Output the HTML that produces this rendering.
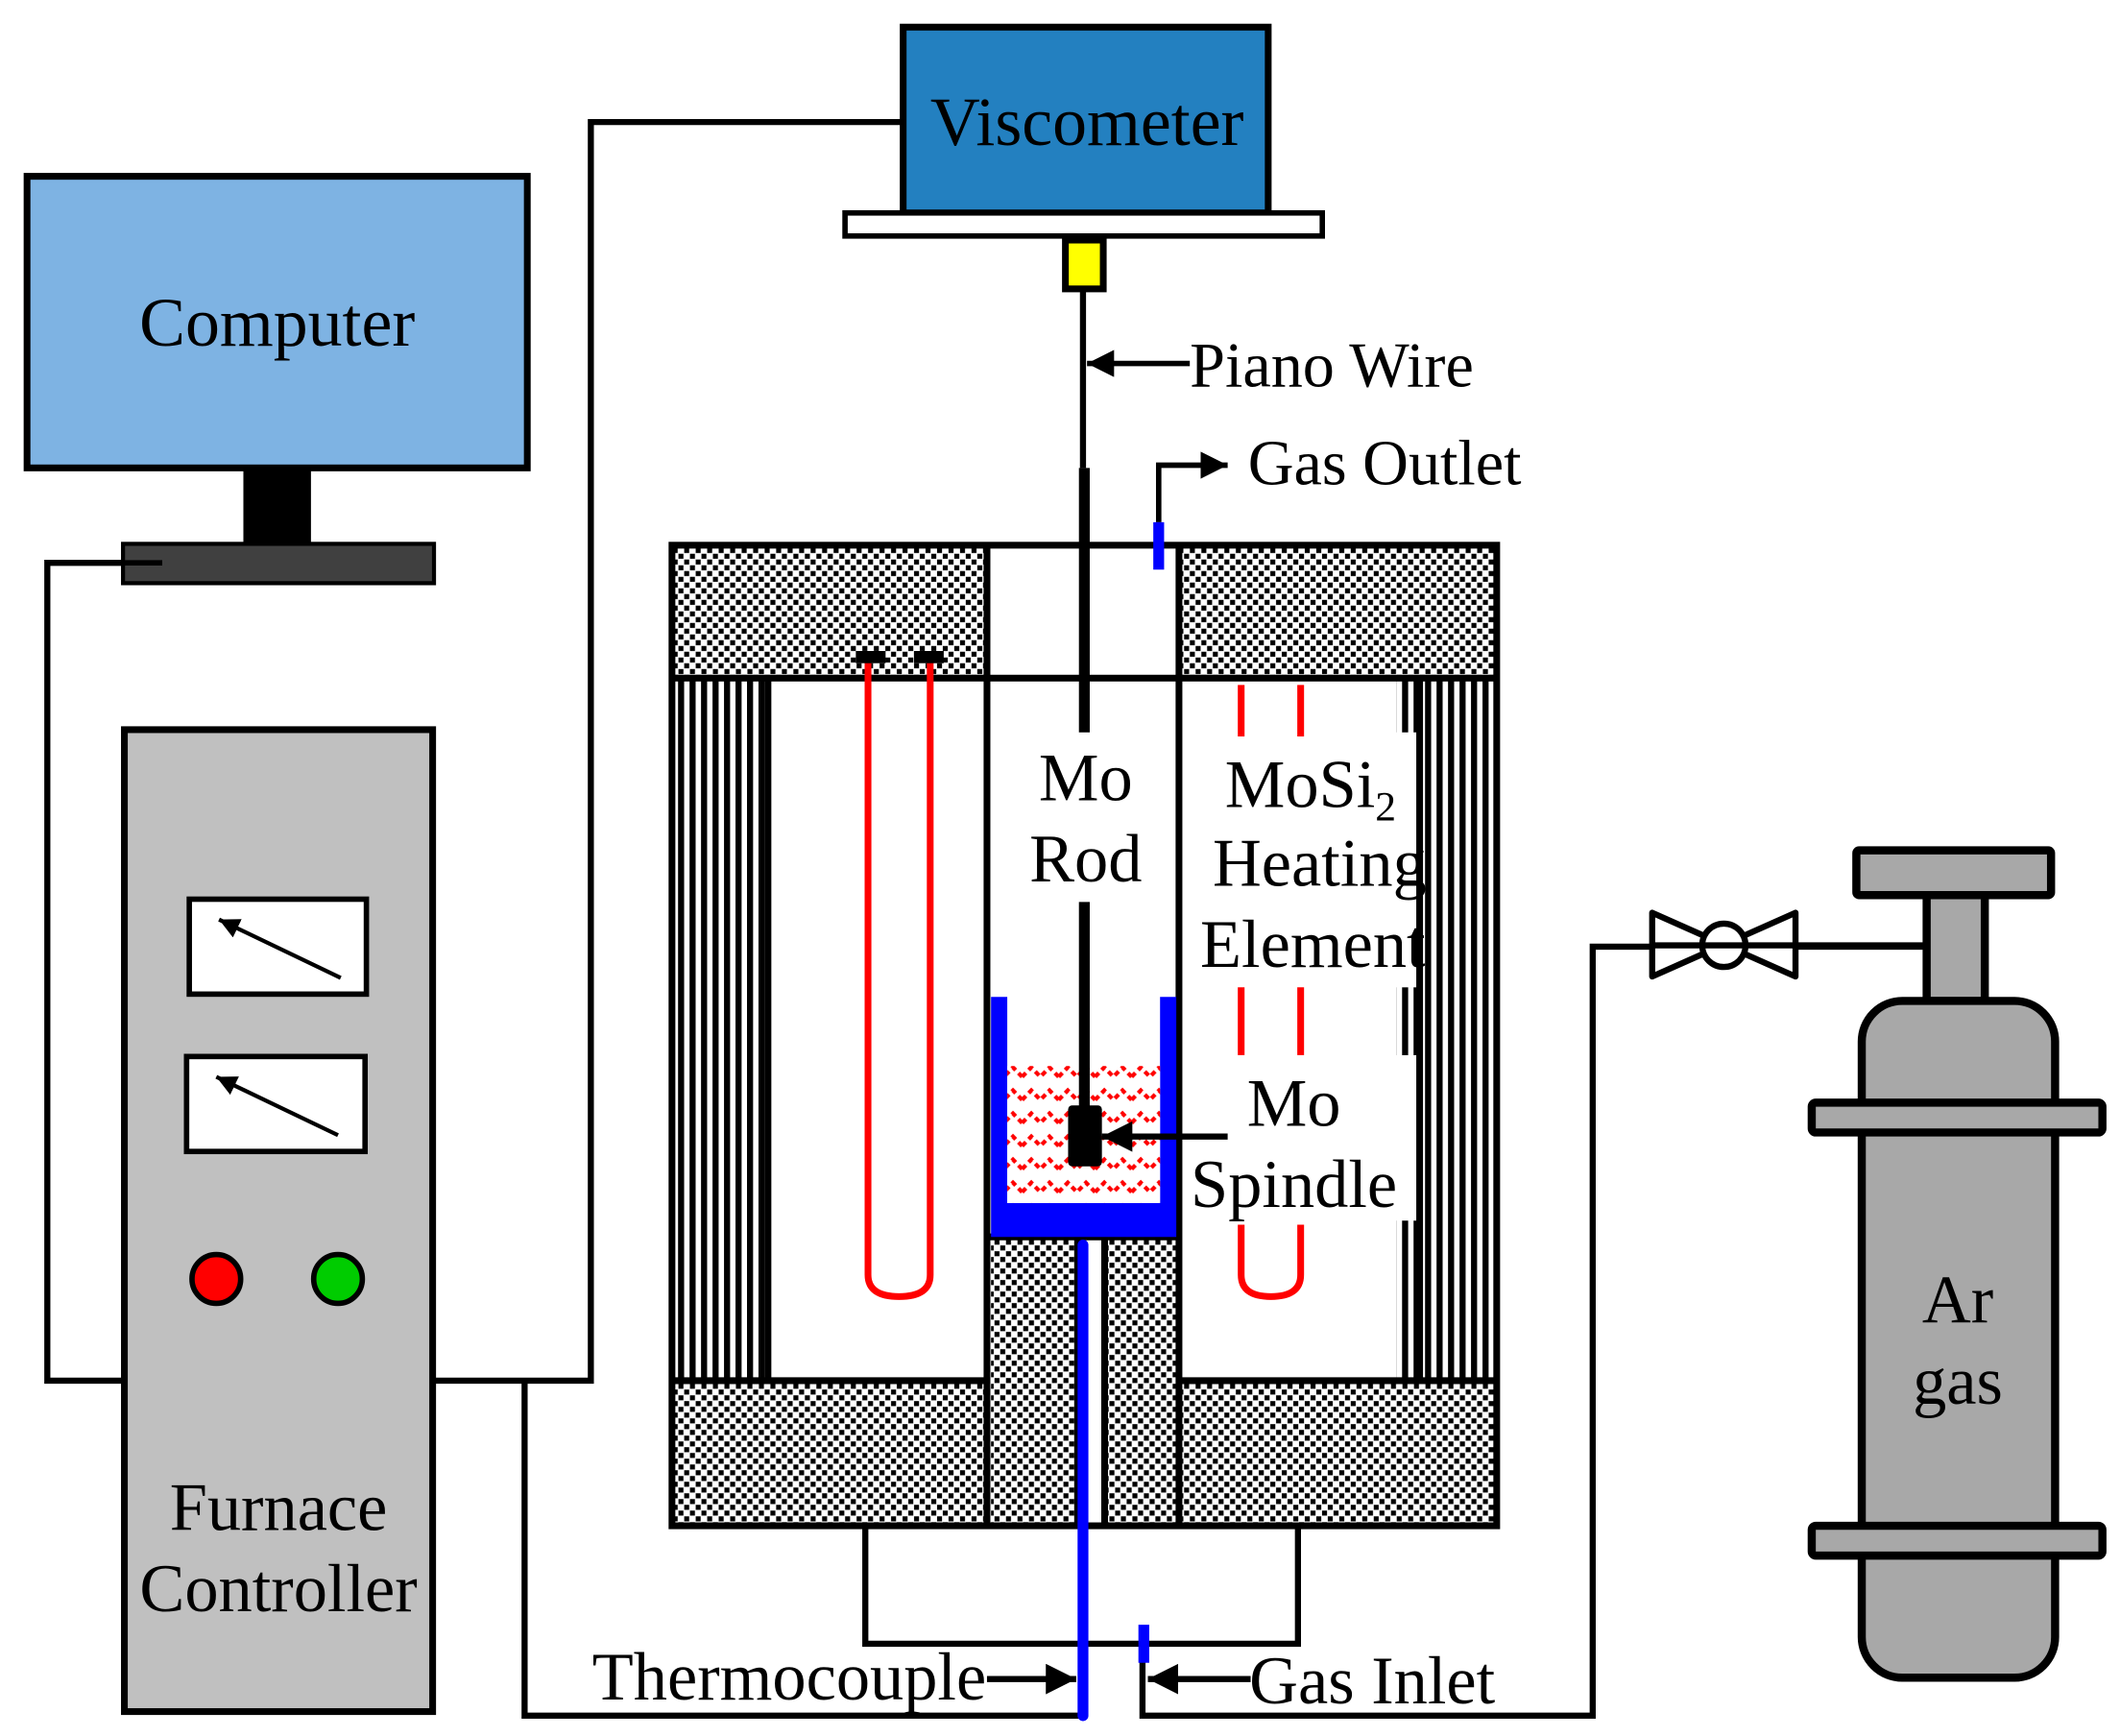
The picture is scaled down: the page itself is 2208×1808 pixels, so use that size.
<!DOCTYPE html>
<html><head><meta charset="utf-8"><style>html,body{margin:0;padding:0;background:#fff}svg{display:block}</style></head>
<body>
<svg width="2208" height="1808" viewBox="0 0 1568 1280" preserveAspectRatio="none" xmlns="http://www.w3.org/2000/svg" font-family="Liberation Serif, serif">
<defs>
<pattern id="chk" width="8.5" height="8.5" patternUnits="userSpaceOnUse">
<rect width="8.5" height="8.5" fill="#fff"/><rect x="0.3" y="0.3" width="3.7" height="3.7" fill="#000"/><rect x="4.55" y="4.55" width="3.7" height="3.7" fill="#000"/></pattern>
<pattern id="str" width="8.5" height="10" patternUnits="userSpaceOnUse">
<rect width="8.5" height="10" fill="#fff"/><rect width="4.5" height="10" fill="#000"/></pattern>
<pattern id="melt" width="27" height="17" patternUnits="userSpaceOnUse">
<rect width="27" height="17" fill="#fff"/>
<polyline points="0,12 6.75,5 13.5,12 20.25,5 27,12" fill="none" stroke="#f00" stroke-width="3" stroke-dasharray="4 3"/></pattern>
<marker id="ah" viewBox="0 0 10 10" refX="10" refY="5" markerWidth="5" markerHeight="5" orient="auto" markerUnits="strokeWidth"><path d="M0,0L10,5L0,10z" fill="#000"/></marker>
</defs>
<rect width="1568" height="1280" fill="#fff"/>

<g fill="none" stroke="#000" stroke-width="4.5">
<polyline points="120,415 35,415 35,1018 92,1018"/>
<polyline points="320,1018 437,1018 437,90 668,90"/>
<polyline points="388,1018 388,1265 800,1265"/>
<polyline points="845,1225 845,1265 1178,1265 1178,698 1425,698"/>
<polyline points="640,1125 640,1212 960,1212 960,1125"/>
</g>

<rect x="20" y="130" width="370" height="215" fill="#7eb3e3" stroke="#000" stroke-width="5"/>
<rect x="180" y="345" width="50" height="55" fill="#000"/>
<rect x="91" y="401" width="230" height="29" fill="#404040" stroke="#000" stroke-width="3"/>
<line x1="35" y1="415" x2="120" y2="415" stroke="#000" stroke-width="4"/>
<text x="205" y="255" font-size="51" text-anchor="middle">Computer</text>

<rect x="92" y="538" width="228" height="724" fill="#c0c0c0" stroke="#000" stroke-width="5"/>
<rect x="140" y="663" width="131" height="70" fill="#fff" stroke="#000" stroke-width="4"/>
<rect x="138" y="779" width="132" height="70" fill="#fff" stroke="#000" stroke-width="4"/>
<line x1="252" y1="721" x2="162" y2="678" stroke="#000" stroke-width="3" marker-end="url(#ah)"/>
<line x1="250" y1="837" x2="160" y2="794" stroke="#000" stroke-width="3" marker-end="url(#ah)"/>
<circle cx="160" cy="943" r="18" fill="#f00" stroke="#000" stroke-width="4"/>
<circle cx="250" cy="943" r="18" fill="#0c0" stroke="#000" stroke-width="4"/>
<text x="206" y="1128" font-size="50" text-anchor="middle">Furnace</text>
<text x="206" y="1188" font-size="50" text-anchor="middle">Controller</text>

<rect x="668" y="20" width="270" height="137" fill="#2380c0" stroke="#000" stroke-width="5"/>
<text x="804" y="107" font-size="51" text-anchor="middle">Viscometer</text>
<rect x="625" y="157" width="353" height="17" fill="#fff" stroke="#000" stroke-width="4"/>
<rect x="788" y="177" width="28" height="36" fill="#ff0" stroke="#000" stroke-width="5"/>
<line x1="801" y1="213" x2="801" y2="345" stroke="#000" stroke-width="4.5"/>
<line x1="880" y1="268" x2="804" y2="268" stroke="#000" stroke-width="4" marker-end="url(#ah)"/>
<text x="880" y="285" font-size="47">Piano Wire</text>
<polyline points="857,385 857,343 908,343" fill="none" stroke="#000" stroke-width="4" marker-end="url(#ah)"/>
<text x="923" y="357" font-size="47">Gas Outlet</text>

<rect x="497" y="402" width="233" height="98" fill="url(#chk)"/>
<rect x="872" y="402" width="235" height="98" fill="url(#chk)"/>
<rect x="497" y="500" width="71" height="518" fill="url(#str)"/>
<rect x="1050" y="500" width="57" height="518" fill="url(#str)"/>
<rect x="1033" y="500" width="17" height="40" fill="url(#str)"/>
<rect x="1033" y="728" width="17" height="50" fill="url(#str)"/>
<rect x="1033" y="900" width="17" height="118" fill="url(#str)"/>
<rect x="497" y="1018" width="233" height="107" fill="url(#chk)"/>
<rect x="872" y="1018" width="235" height="107" fill="url(#chk)"/>
<rect x="733" y="912" width="64" height="213" fill="url(#chk)"/>
<rect x="817" y="912" width="53" height="213" fill="url(#chk)"/>
<g stroke="#000" stroke-width="5" fill="none">
<rect x="497" y="402" width="610" height="723"/>
<line x1="497" y1="500" x2="1107" y2="500"/>
<line x1="730" y1="402" x2="730" y2="1125"/>
<line x1="872" y1="402" x2="872" y2="1125"/>
<line x1="568" y1="500" x2="568" y2="1018"/>
<line x1="1050" y1="500" x2="1050" y2="1018"/>
<line x1="497" y1="1018" x2="730" y2="1018"/>
<line x1="872" y1="1018" x2="1107" y2="1018"/>
<line x1="730" y1="912" x2="872" y2="912"/>
<line x1="797" y1="912" x2="797" y2="1125"/>
<line x1="817" y1="912" x2="817" y2="1125"/>
</g>
<line x1="857" y1="385" x2="857" y2="420" stroke="#00f" stroke-width="8"/>

<path d="M733,735 H745 V887 H858 V735 H870 V912 H733 Z" fill="#00f"/>
<rect x="745" y="786" width="113" height="101" fill="url(#melt)"/>

<g stroke="#f00" stroke-width="5" fill="none">
<path d="M642,488 V940 Q642,956 665,956 Q688,956 688,940 V488"/>
<path d="M918,505 V543 M962,505 V543 M918,728 V778 M962,728 V778"/>
<path d="M918,903 V940 Q918,956 940,956 Q962,956 962,940 V903"/>
</g>
<rect x="633" y="480" width="22" height="9" fill="#000"/>
<rect x="676" y="480" width="22" height="9" fill="#000"/>

<line x1="802" y1="345" x2="802" y2="540" stroke="#000" stroke-width="8"/>
<line x1="802" y1="665" x2="802" y2="820" stroke="#000" stroke-width="8"/>
<rect x="790" y="815" width="25" height="45" rx="3" fill="#000"/>
<line x1="908" y1="838" x2="815" y2="838" stroke="#000" stroke-width="4.5" marker-end="url(#ah)"/>
<text x="803" y="590" font-size="50" text-anchor="middle">Mo</text>
<text x="803" y="650" font-size="50" text-anchor="middle">Rod</text>
<text x="906" y="595" font-size="50">MoSi<tspan font-size="31" dy="10">2</tspan></text>
<text x="976" y="653" font-size="50" text-anchor="middle">Heating</text>
<text x="971" y="713" font-size="50" text-anchor="middle">Element</text>
<text x="957" y="830" font-size="50" text-anchor="middle">Mo</text>
<text x="957" y="890" font-size="50" text-anchor="middle">Spindle</text>

<line x1="801" y1="918" x2="801" y2="1265" stroke="#00f" stroke-width="8" stroke-linecap="round"/>
<line x1="846" y1="1198" x2="846" y2="1226" stroke="#00f" stroke-width="8"/>
<line x1="730" y1="1238" x2="796" y2="1238" stroke="#000" stroke-width="4.5" marker-end="url(#ah)"/>
<line x1="925" y1="1238" x2="849" y2="1238" stroke="#000" stroke-width="4.5" marker-end="url(#ah)"/>
<text x="438" y="1253" font-size="50">Thermocouple</text>
<text x="924" y="1256" font-size="50">Gas Inlet</text>

<g stroke="#000" stroke-width="4.5" fill="#fff" stroke-linejoin="round">
<polygon points="1222,673 1222,720 1328,673 1328,720"/>
<circle cx="1275" cy="697" r="16"/>
</g>
<line x1="1222" y1="697" x2="1425" y2="697" stroke="#000" stroke-width="4.5"/>

<g fill="#a8a8a8" stroke="#000" stroke-width="6" stroke-linejoin="round">
<rect x="1373" y="627" width="144" height="33" rx="2"/>
<rect x="1425" y="660" width="43" height="78"/>
<rect x="1377" y="738" width="143" height="499" rx="30"/>
<rect x="1340" y="813" width="215" height="22" rx="3"/>
<rect x="1340" y="1125" width="215" height="22" rx="3"/>
</g>
<text x="1448" y="975" font-size="50" text-anchor="middle">Ar</text>
<text x="1448" y="1035" font-size="50" text-anchor="middle">gas</text>
</svg>
</body></html>
